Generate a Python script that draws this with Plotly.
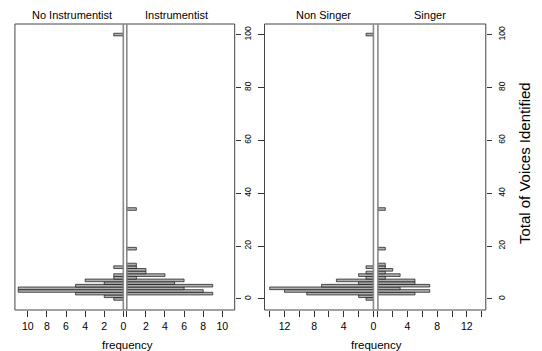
import plotly.graph_objects as go

# ---- data ----
voices = [0, 1, 2, 3, 4, 5, 6, 7, 8, 9, 10, 11, 12, 13, 19, 34, 100]
no_instrumentist = [1, 2, 5, 11, 11, 5, 2, 4, 1, 1, 0, 0, 1, 0, 0, 0, 1]
instrumentist    = [0, 0, 9, 8, 6, 9, 5, 6, 1, 4, 2, 2, 1, 1, 1, 1, 0]
non_singer       = [1, 2, 9, 12, 14, 7, 2, 5, 1, 2, 1, 0, 1, 0, 0, 0, 1]
singer           = [0, 0, 5, 7, 3, 7, 5, 5, 1, 3, 1, 2, 1, 1, 1, 1, 0]
y_ticks = [0, 20, 40, 60, 80, 100]

W, H = 542, 351
FONT = "Liberation Sans, Arial, Helvetica, sans-serif"
BAR_FILL = "#b0b0b0"
BAR_LINE = "#111111"


def px(x):
    return x / W


def py(y):
    return 1 - y / H


def nz(counts):
    ys = [v for v, c in zip(voices, counts) if c > 0]
    xs = [c for c in counts if c > 0]
    return xs, ys


fig = go.Figure()

for counts, xa, ya in [
    (no_instrumentist, "x", "y"),
    (instrumentist, "x2", "y"),
    (non_singer, "x3", "y2"),
    (singer, "x4", "y2"),
]:
    xs, ys = nz(counts)
    fig.add_trace(go.Bar(
        x=xs, y=ys, orientation="h", width=1,
        marker=dict(color=BAR_FILL, line=dict(color=BAR_LINE, width=0.7)),
        xaxis=xa, yaxis=ya, showlegend=False, hoverinfo="skip",
    ))

# dummy trace to realise the left-side tick axis of panel 2
fig.add_trace(go.Scatter(x=[None], y=[None], xaxis="x3", yaxis="y3",
                         showlegend=False, hoverinfo="skip"))

y_dom = [py(310), py(24)]
y_range = [-4.2, 104.0]

tickfont_x = dict(family=FONT, size=10.5, color="black")
tickfont_y = dict(family=FONT, size=8.5, color="black")


def xaxis(domain, rng, tickvals, ticktext, anchor):
    return dict(domain=domain, range=rng, anchor=anchor, tickmode="array",
                tickvals=tickvals, ticktext=ticktext, ticks="outside",
                ticklen=6, tickwidth=1, tickcolor="#333", showgrid=False,
                zeroline=False, showline=False, tickfont=tickfont_x)


t10 = [0, 2, 4, 6, 8, 10]
t14 = [0, 2, 4, 6, 8, 10, 12, 14]

fig.update_layout(
    width=W, height=H,
    margin=dict(l=0, r=0, t=0, b=0),
    paper_bgcolor="white", plot_bgcolor="white",
    barmode="overlay", bargap=0,
    font=dict(family=FONT, color="black"),
    xaxis=xaxis([px(15), px(124)], [11.35, 0], t10, [str(t) for t in t10], "y"),
    xaxis2=xaxis([px(127.5), px(236)], [0, 11.3], t10, [""] + [str(t) for t in t10[1:]], "y"),
    xaxis3=xaxis([px(266), px(375.5)], [14.7, 0], t14,
                 [str(t) if t % 4 == 0 else "" for t in t14], "y2"),
    xaxis4=xaxis([px(380), px(488.5)], [0, 14.56], t14,
                 [str(t) if (t % 4 == 0 and t > 0) else "" for t in t14], "y2"),
    yaxis=dict(domain=y_dom, range=y_range, anchor="x2", side="right",
               tickmode="array", tickvals=y_ticks, ticks="outside", ticklen=5,
               tickcolor="#333", tickangle=-90, showgrid=False, zeroline=False,
               showline=False, tickfont=tickfont_y),
    yaxis2=dict(domain=y_dom, range=y_range, anchor="x4", side="right",
                tickmode="array", tickvals=y_ticks, ticks="outside", ticklen=5,
                tickcolor="#333", tickangle=-90, showgrid=False, zeroline=False,
                showline=False, tickfont=tickfont_y, ticklabelstandoff=3),
    yaxis3=dict(domain=y_dom, range=y_range, anchor="x3", side="left",
                overlaying="y2", tickmode="array", tickvals=y_ticks,
                ticks="outside", ticklen=6, tickcolor="#333",
                showticklabels=False, showgrid=False, zeroline=False,
                showline=False),
)

shapes = []
# frames
for x0, x1 in [(15, 236), (266, 488.5)]:
    shapes.append(dict(type="rect", xref="paper", yref="paper",
                       x0=px(x0), x1=px(x1), y0=py(310), y1=py(24),
                       line=dict(color="#444", width=1), layer="above"))
# central zero lines
for xl in [124, 127.5, 375.5, 380]:
    shapes.append(dict(type="line", xref="paper", yref="paper",
                       x0=px(xl), x1=px(xl), y0=py(310), y1=py(24),
                       line=dict(color="#8a8a8a", width=1.6), layer="above"))
fig.update_layout(shapes=shapes)

ann = []
for text, x in [("No Instrumentist", 72), ("Instrumentist", 177),
                ("Non Singer", 325), ("Singer", 432)]:
    ann.append(dict(text=text, x=px(x), y=py(15), xref="paper", yref="paper",
                    showarrow=False, xanchor="center", yanchor="middle",
                    font=dict(family=FONT, size=11, color="black")))
for x in [128, 379]:
    ann.append(dict(text="frequency", x=px(x), y=py(345), xref="paper",
                    yref="paper", showarrow=False, xanchor="center",
                    yanchor="middle",
                    font=dict(family=FONT, size=11.5, color="black")))
ann.append(dict(text="Total of Voices Identified", x=px(527), y=py(163),
                xref="paper", yref="paper", showarrow=False, textangle=-90,
                xanchor="center", yanchor="middle",
                font=dict(family=FONT, size=15, color="black")))
fig.update_layout(annotations=ann)

fig.write_html(
    "out.html",
    config={"displayModeBar": False, "staticPlot": True},
    post_script="document.body.style.margin='0';document.body.style.overflow='hidden';",
)
